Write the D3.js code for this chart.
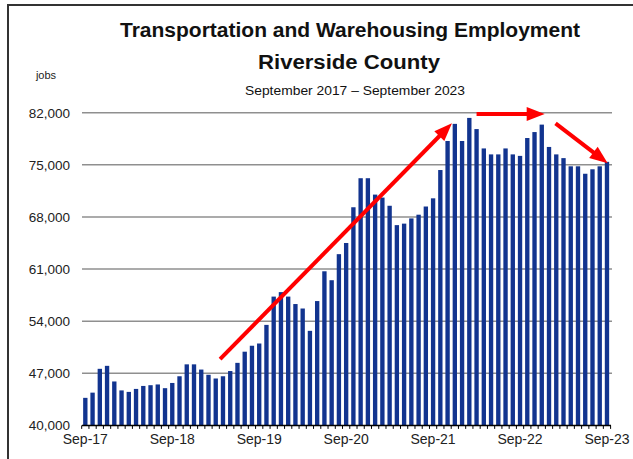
<!DOCTYPE html>
<html><head><meta charset="utf-8">
<script src="https://cdn.jsdelivr.net/npm/d3@7"></script>
<style>html,body{margin:0;padding:0;background:#fff;overflow:hidden}</style>
</head><body><svg id="c" width="633" height="459"></svg>
<script>
const months = [
 "2017-09","2017-10","2017-11","2017-12","2018-01","2018-02","2018-03","2018-04","2018-05","2018-06","2018-07","2018-08",
 "2018-09","2018-10","2018-11","2018-12","2019-01","2019-02","2019-03","2019-04","2019-05","2019-06","2019-07","2019-08",
 "2019-09","2019-10","2019-11","2019-12","2020-01","2020-02","2020-03","2020-04","2020-05","2020-06","2020-07","2020-08",
 "2020-09","2020-10","2020-11","2020-12","2021-01","2021-02","2021-03","2021-04","2021-05","2021-06","2021-07","2021-08",
 "2021-09","2021-10","2021-11","2021-12","2022-01","2022-02","2022-03","2022-04","2022-05","2022-06","2022-07","2022-08",
 "2022-09","2022-10","2022-11","2022-12","2023-01","2023-02","2023-03","2023-04","2023-05","2023-06","2023-07","2023-08",
 "2023-09"];
const jobs = [
 43700,44400,47600,48000,45900,44700,44500,44900,45300,45400,45500,45000,
 45700,46600,48200,48200,47500,46800,46300,46600,47300,48400,49900,50700,
 51000,53500,57300,57900,57300,56300,55700,52700,56700,60700,59500,63000,
 64500,69300,73200,73200,71000,70600,69500,66900,67100,67800,68300,69400,
 70500,74300,78200,80500,78200,81300,79800,77200,76400,76400,77200,76400,
 76200,78600,79400,80400,77400,76400,75900,74800,74800,73800,74400,74800,
 75400];
const yTicks = [40000,47000,54000,61000,68000,75000,82000];
const xTickMonths = ["2017-09","2018-09","2019-09","2020-09","2021-09","2022-09","2023-09"];
const xTickLabels = ["Sep-17","Sep-18","Sep-19","Sep-20","Sep-21","Sep-22","Sep-23"];
const titleLines = ["Transportation and Warehousing Employment","Riverside County"];
const subtitle = "September 2017 \u2013 September 2023";
const yAxisLabel = "jobs";
// trend arrows in data space: [month index, jobs]
const arrowFrom = [[18.6,48900],[54.0,81820],[64.9,80570]];
const arrowTo   = [[50.6,80570],[63.4,81820],[72.1,75200]];

const svg = d3.select("#c");
const x = d3.scaleBand().domain(months).range([81.7,610.6]).paddingInner(0.4).paddingOuter(0.2);
const y = d3.scaleLinear().domain([40000,82000]).range([425.4,112.7]);
const xi = i => x(months[0]) + x.bandwidth()/2 + i*x.step();

// frame
svg.append("path").attr("d","M8,459V5H633").attr("fill","none").attr("stroke","#333").attr("stroke-width",2);

// gridlines
svg.append("g").selectAll("line").data(yTicks.filter(d=>d>40000)).join("line")
  .attr("x1",82).attr("x2",612).attr("y1",d=>y(d)).attr("y2",d=>y(d))
  .attr("stroke","#8f8f8f").attr("stroke-width",1.5);

// y labels
const narrow = "'Liberation Sans', Arial, sans-serif";
svg.append("g").selectAll("text").data(yTicks).join("text")
  .attr("x",70).attr("y",d=>y(d)).attr("dy","0.36em").attr("text-anchor","end")
  .attr("font-family",narrow).attr("font-size",13.5).attr("fill","#222")
  .text(d=>d3.format(",")(d));

// bars
svg.append("g").selectAll("rect").data(jobs).join("rect")
  .attr("x",(d,i)=>x(months[i])).attr("width",x.bandwidth())
  .attr("y",d=>y(d)).attr("height",d=>y(40000)-y(d))
  .attr("fill","#12348f");

// x axis
const xAxis = svg.append("g");
xAxis.append("line").attr("x1",82).attr("x2",611).attr("y1",y(40000)).attr("y2",y(40000))
  .attr("stroke","#000").attr("stroke-width",1.5);
xAxis.selectAll("line.t").data(d3.range(months.length+1)).join("line").attr("class","t")
  .attr("x1",i=>x(months[0]) - x.step()*0.2 + i*x.step()).attr("x2",i=>x(months[0]) - x.step()*0.2 + i*x.step())
  .attr("y1",y(40000)).attr("y2",y(40000)+3.5).attr("stroke","#000").attr("stroke-width",1);
xAxis.selectAll("text").data(xTickMonths).join("text")
  .attr("x",(d)=>x(d)+x.bandwidth()/2).attr("y",444).attr("text-anchor","middle")
  .attr("font-family",narrow).attr("font-size",14).attr("fill","#222")
  .text((d,i)=>xTickLabels[i]);

// titles
const cond = "'Liberation Sans Narrow','Arial Narrow','Liberation Sans',Arial,sans-serif";
svg.append("text").attr("x",350).attr("y",37).attr("text-anchor","middle")
  .attr("font-family",cond).attr("font-weight","bold").attr("font-size",20).attr("fill","#111")
  .attr("textLength",460).attr("lengthAdjust","spacingAndGlyphs").text(titleLines[0]);
svg.append("text").attr("x",349).attr("y",69).attr("text-anchor","middle")
  .attr("font-family",cond).attr("font-weight","bold").attr("font-size",20).attr("fill","#111")
  .attr("textLength",182).attr("lengthAdjust","spacingAndGlyphs").text(titleLines[1]);
svg.append("text").attr("x",355).attr("y",95).attr("text-anchor","middle")
  .attr("font-family",cond).attr("font-size",12.5).attr("fill","#111")
  .attr("textLength",220).attr("lengthAdjust","spacingAndGlyphs").text(subtitle);
svg.append("text").attr("x",46).attr("y",79).attr("text-anchor","middle")
  .attr("font-family",narrow).attr("font-size",11).attr("fill","#222").text(yAxisLabel);

// arrows
const ag = svg.append("g");
arrowFrom.forEach((f,k)=>{
  const t = arrowTo[k];
  const x0 = xi(f[0]), y0 = y(f[1]), x1 = xi(t[0]), y1 = y(t[1]);
  const dx = x1-x0, dy = y1-y0, L = Math.hypot(dx,dy), ux = dx/L, uy = dy/L;
  const hl = 18, hw = 7;
  const bx = x1 - ux*hl, by = y1 - uy*hl;
  ag.append("line").attr("x1",x0).attr("y1",y0).attr("x2",bx+ux*2).attr("y2",by+uy*2)
    .attr("stroke","#ff0000").attr("stroke-width",4);
  ag.append("path").attr("d",`M${x1},${y1}L${bx - uy*hw},${by + ux*hw}L${bx + uy*hw},${by - ux*hw}Z`)
    .attr("fill","#ff0000");
});
</script></body></html>
